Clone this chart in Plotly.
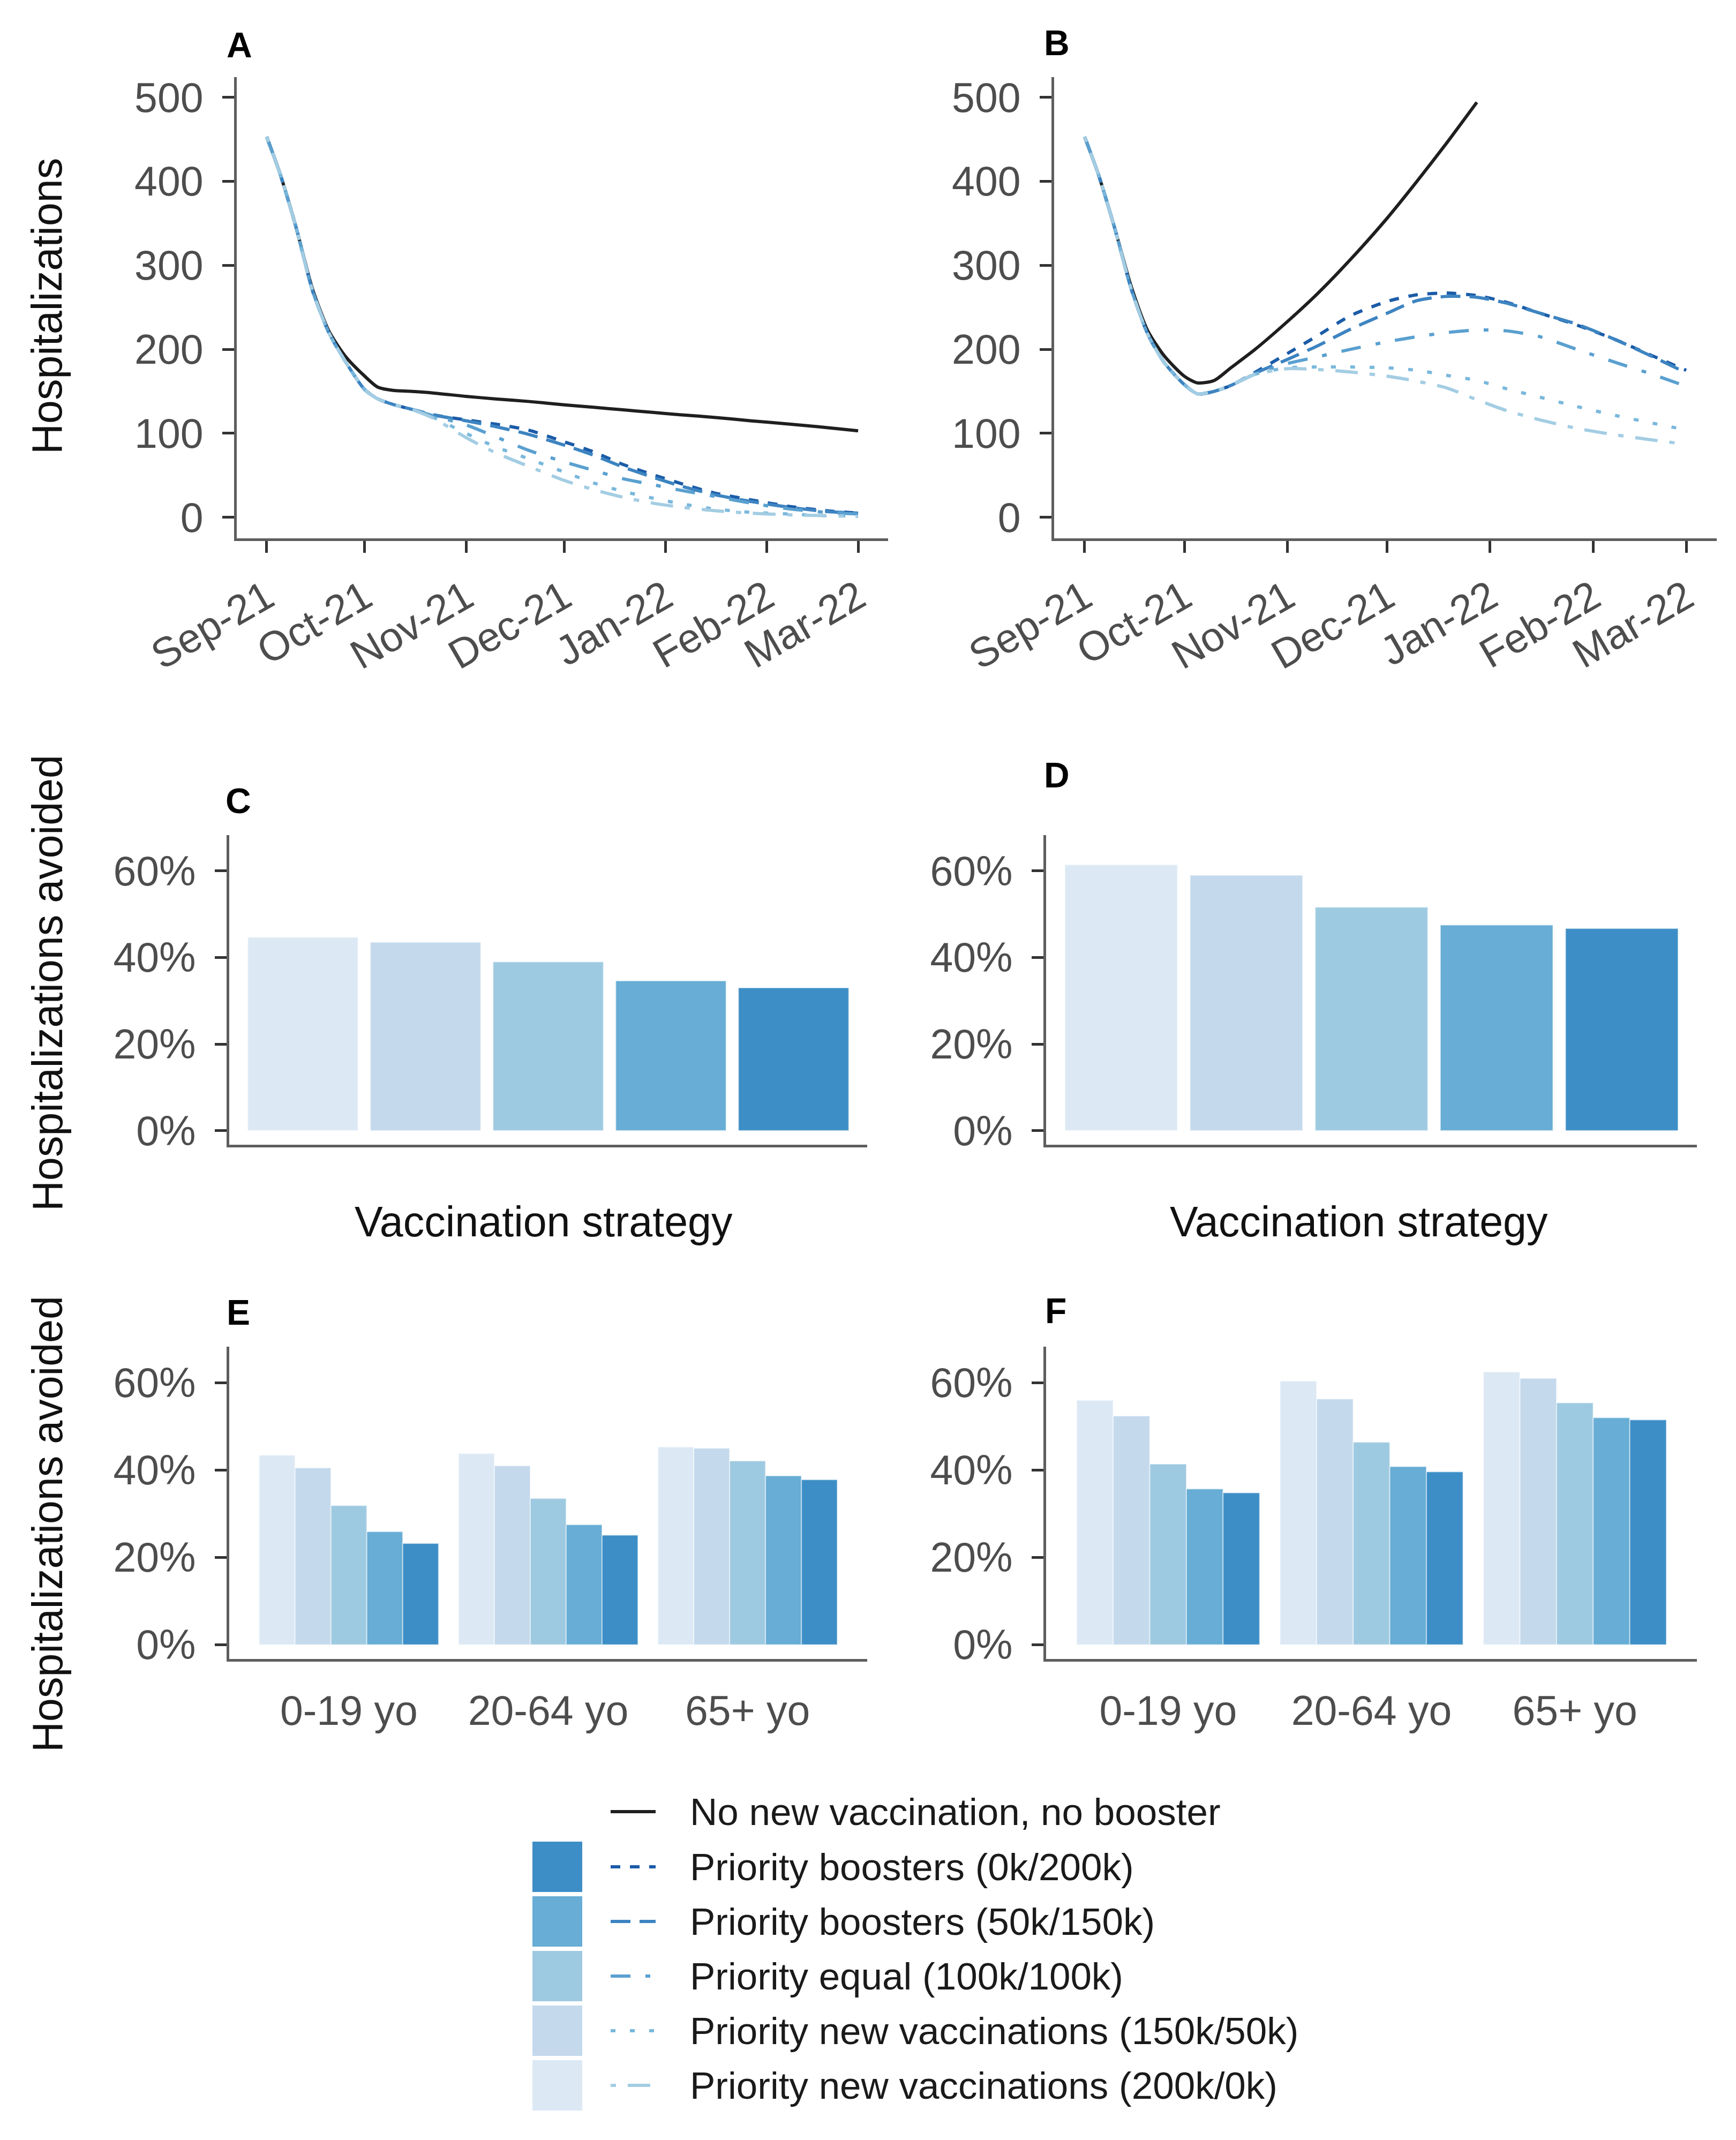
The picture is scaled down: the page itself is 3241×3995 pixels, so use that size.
import plotly.graph_objects as go

W, H = 3241, 3995
PAGE_MARGIN = 8  # default body margin of the html page
FONT = "Liberation Sans, Arial, sans-serif"

# ---------------- data ----------------
dates = ["2021-09-01", "2021-09-05", "2021-09-10", "2021-09-15", "2021-09-20", "2021-09-25",
         "2021-10-01", "2021-10-05", "2021-10-10", "2021-10-15", "2021-10-22", "2021-11-01",
         "2021-11-10", "2021-11-20", "2021-12-01", "2021-12-10", "2021-12-19", "2021-12-28",
         "2022-01-06", "2022-01-16", "2022-01-27", "2022-02-08", "2022-02-19", "2022-03-01"]

month_ticks = ["2021-09-01", "2021-10-01", "2021-11-01", "2021-12-01",
               "2022-01-01", "2022-02-01", "2022-03-01"]
month_labels = ["Sep-21", "Oct-21", "Nov-21", "Dec-21", "Jan-22", "Feb-22", "Mar-22"]

baseline_name = "No new vaccination, no booster"
strategies = ["Priority boosters (0k/200k)", "Priority boosters (50k/150k)",
              "Priority equal (100k/100k)", "Priority new vaccinations (150k/50k)",
              "Priority new vaccinations (200k/0k)"]

# panel A: hospitalizations
a_none = [453, 410, 345, 272, 222, 192, 168, 155, 151, 150, 148, 144,
          141, 138, 134, 131, 128, 125, 122, 119, 115, 111, 107, 103]
a_b0 = [453, 410, 345, 270, 220, 186, 152, 141, 134, 129, 122, 116,
        111, 104, 90, 78, 63, 51, 40, 29, 21, 13, 8, 5]
a_b50 = [453, 410, 345, 270, 220, 186, 152, 141, 134, 129, 122, 115,
         108, 99, 86, 74, 60, 48, 37, 27, 19, 12, 7, 5]
a_eq = [453, 410, 345, 270, 220, 186, 152, 141, 134, 129, 121, 110,
        96, 80, 66, 56, 46, 39, 32, 25, 17, 10, 6, 4]
a_n150 = [453, 410, 345, 270, 220, 186, 152, 141, 134, 129, 119, 100,
          84, 70, 54, 41, 31, 23, 16, 10, 6, 4, 2, 2]
a_n200 = [453, 410, 345, 270, 220, 186, 152, 141, 134, 129, 118, 95,
          77, 61, 44, 33, 24, 17, 12, 8, 5, 3, 2, 1]

# panel B: hospitalizations
b_none = [453, 410, 345, 275, 222, 192, 168, 160, 163, 178, 199, 233,
          266, 307, 356, 400, 446, 494, None, None, None, None, None, None]
b_b0 = [453, 410, 345, 272, 218, 184, 158, 147, 150, 157, 172, 195,
        216, 240, 257, 265, 267, 264, 256, 243, 229, 211, 192, 175]
b_b50 = [453, 410, 345, 272, 218, 184, 158, 147, 150, 157, 171, 188,
         204, 224, 243, 258, 263, 262, 255, 243, 230, 211, 191, 172]
b_eq = [453, 410, 345, 272, 218, 184, 158, 147, 150, 157, 170, 183,
        191, 200, 209, 215, 220, 223, 222, 215, 200, 184, 170, 156]
b_n150 = [453, 410, 345, 272, 218, 184, 158, 147, 150, 157, 170, 178,
          179, 179, 178, 175, 169, 163, 153, 143, 132, 121, 112, 104]
b_n200 = [453, 410, 345, 272, 218, 184, 158, 147, 150, 157, 170, 177,
          176, 173, 168, 162, 154, 140, 127, 116, 106, 98, 92, 87]

# panels C, D: share of hospitalizations avoided (%), lightest strategy first
bar_order = ["Priority new vaccinations (200k/0k)", "Priority new vaccinations (150k/50k)",
             "Priority equal (100k/100k)", "Priority boosters (50k/150k)",
             "Priority boosters (0k/200k)"]
c_avoided = [44.7, 43.5, 39.0, 34.6, 33.0]
d_avoided = [61.4, 59.0, 51.6, 47.5, 46.7]

# panels E, F: by age group
age_groups = ["0-19 yo", "20-64 yo", "65+ yo"]
e_n200 = [43.4, 43.8, 45.3]
e_n150 = [40.5, 41.0, 45.0]
e_eq = [31.9, 33.5, 42.1]
e_b50 = [25.9, 27.5, 38.7]
e_b0 = [23.2, 25.1, 37.8]
f_n200 = [56.0, 60.4, 62.5]
f_n150 = [52.4, 56.3, 61.0]
f_eq = [41.4, 46.4, 55.4]
f_b50 = [35.7, 40.8, 52.0]
f_b0 = [34.8, 39.6, 51.5]

pct_ticks = [0, 20, 40, 60]
pct_labels = ["0%", "20%", "40%", "60%"]

# ---------------- styles ----------------
baseline_color = "#1f1f1f"
line_colors = ["#1b5ca8", "#3d84c1", "#5aa0d0", "#7ab8dc", "#a3cde3"]
line_dashes = ["18px,18px", "37px,17px", "37px,28px,9px,28px", "9px,27px", "10px,22px,42px,22px"]
fill_colors = ["#3d8ec6", "#67add5", "#9ecae1", "#c4d9ec", "#dce9f5"]
LW = 6


def px_x(x):
    return (x - PAGE_MARGIN) / W


def px_y(y):
    return 1 - (y - PAGE_MARGIN) / H


fig = go.Figure()

# ---------------- line panels ----------------
for ax, series in (("", (a_none, a_b0, a_b50, a_eq, a_n150, a_n200)),
                   ("2", (b_none, b_b0, b_b50, b_eq, b_n150, b_n200))):
    fig.add_trace(go.Scatter(x=dates, y=series[0], mode="lines", name=baseline_name,
                             line=dict(color=baseline_color, width=LW, shape="spline", smoothing=0.7),
                             xaxis="x" + ax, yaxis="y" + ax))
    for i in range(5):
        fig.add_trace(go.Scatter(x=dates, y=series[i + 1], mode="lines", name=strategies[i],
                                 line=dict(color=line_colors[i], width=LW, dash=line_dashes[i],
                                           shape="spline", smoothing=0.7),
                                 xaxis="x" + ax, yaxis="y" + ax))

# ---------------- bar panels C, D ----------------
bar_fills = [fill_colors[strategies.index(s)] for s in bar_order]
for ax, vals in (("3", c_avoided), ("4", d_avoided)):
    fig.add_trace(go.Bar(x=bar_order, y=vals, marker=dict(color=bar_fills,
                                                           line=dict(color="rgba(255,255,255,0.5)", width=2)),
                         xaxis="x" + ax, yaxis="y" + ax))

# ---------------- bar panels E, F ----------------
for ax, groups in (("5", (e_n200, e_n150, e_eq, e_b50, e_b0)),
                   ("6", (f_n200, f_n150, f_eq, f_b50, f_b0))):
    for s, vals in zip(bar_order, groups):
        fig.add_trace(go.Bar(x=age_groups, y=vals, name=s,
                             marker=dict(color=fill_colors[strategies.index(s)],
                                         line=dict(color="rgba(255,255,255,0.5)", width=2)),
                             xaxis="x" + ax, yaxis="y" + ax))

# ---------------- axes ----------------
tickfont = dict(size=77, color="#4d4d4d", family=FONT)
base = dict(showline=True, linecolor="#5e5e5e", linewidth=5, showgrid=False, zeroline=False,
            tickfont=tickfont, tickwidth=5, tickcolor="#333333", automargin=False)

# pixel boxes: left, right, top, bottom
boxes = {
    "": (442, 1658, 144, 1005),
    "2": (1968, 3205, 144, 1005),
    "3": (428, 1619, 1559, 2137),
    "4": (1953, 3168, 1559, 2137),
    "5": (428, 1619, 2514, 3097),
    "6": (1953, 3168, 2514, 3097),
}

layout_axes = {}
for ax, (l, r, t, b) in boxes.items():
    xd = [px_x(l), px_x(r)]
    yd = [px_y(b), px_y(t)]
    if ax in ("", "2"):
        xa = dict(base, domain=xd, anchor="y" + ax, type="date",
                  range=["2021-08-22 20:00", "2022-03-10 04:00"],
                  tickvals=month_ticks, ticktext=month_labels, tickangle=-30,
                  ticks="outside", ticklen=22, ticklabelstandoff=8)
        ya = dict(base, domain=yd, anchor="x" + ax, range=[-25, 524],
                  tickvals=[0, 100, 200, 300, 400, 500],
                  ticks="outside", ticklen=22, ticklabelstandoff=20)
    elif ax in ("3", "4"):
        xa = dict(base, domain=xd, anchor="y" + ax, type="category",
                  range=[-0.6, 4.6], showticklabels=False, ticks="")
        ya = dict(base, domain=yd, anchor="x" + ax, range=[-3.25, 68.25],
                  tickvals=pct_ticks, ticktext=pct_labels,
                  ticks="outside", ticklen=22, ticklabelstandoff=20)
    else:
        xa = dict(base, domain=xd, anchor="y" + ax, type="category",
                  range=[-0.6, 2.6], ticks="", ticklabelstandoff=26)
        ya = dict(base, domain=yd, anchor="x" + ax, range=[-3.25, 68.25],
                  tickvals=pct_ticks, ticktext=pct_labels,
                  ticks="outside", ticklen=22, ticklabelstandoff=20)
    layout_axes["xaxis" + ax] = xa
    layout_axes["yaxis" + ax] = ya

# ---------------- annotations ----------------
ann = []
title_font = dict(size=79, color="#111111", family=FONT)
for letter, x, y in (("A", 421, 84), ("B", 1947, 80), ("C", 419, 1495),
                     ("D", 1947, 1447), ("E", 421, 2450), ("F", 1949, 2447)):
    ann.append(dict(text="<b>%s</b>" % letter, x=px_x(x), y=px_y(y), xref="paper", yref="paper",
                    xanchor="left", yanchor="middle", showarrow=False,
                    font=dict(size=66, color="#000000", family=FONT)))

for text, y in (("Hospitalizations", 572), ("Hospitalizations avoided", 1835),
                ("Hospitalizations avoided", 2845)):
    ann.append(dict(text=text, x=px_x(88), y=px_y(y), xref="paper", yref="paper",
                    xanchor="center", yanchor="middle", textangle=-90, showarrow=False,
                    font=title_font))

for x in (1015, 2537):
    ann.append(dict(text="Vaccination strategy", x=px_x(x), y=px_y(2280), xref="paper", yref="paper",
                    xanchor="center", yanchor="middle", showarrow=False, font=title_font))

# ---------------- legend (drawn by hand) ----------------
shapes = []
row_y = [3382, 3485, 3587, 3689, 3791, 3893]
legend_names = [baseline_name] + strategies
legend_lines = [(baseline_color, "solid")] + list(zip(line_colors, line_dashes))
for i, (name, yc) in enumerate(zip(legend_names, row_y)):
    color, dash = legend_lines[i]
    shapes.append(dict(type="line", xref="paper", yref="paper",
                       x0=px_x(1140), x1=px_x(1224), y0=px_y(yc), y1=px_y(yc),
                       line=dict(color=color, width=LW, dash=dash)))
    if i > 0:
        shapes.append(dict(type="rect", xref="paper", yref="paper",
                           x0=px_x(994), x1=px_x(1087), y0=px_y(yc - 47), y1=px_y(yc + 47),
                           fillcolor=fill_colors[i - 1], line=dict(width=0), layer="below"))
    ann.append(dict(text=name, x=px_x(1286), y=px_y(yc), xref="paper", yref="paper",
                    xanchor="left", yanchor="middle", showarrow=False,
                    font=dict(size=71, color="#1a1a1a", family=FONT)))

fig.update_layout(
    template="none",
    width=W, height=H,
    margin=dict(l=0, r=0, t=0, b=0, pad=0),
    paper_bgcolor="white", plot_bgcolor="white",
    showlegend=False,
    barmode="group", bargap=0.1, bargroupgap=0,
    font=dict(family=FONT),
    annotations=ann,
    shapes=shapes,
    **layout_axes,
)

fig.write_html("out.html")
